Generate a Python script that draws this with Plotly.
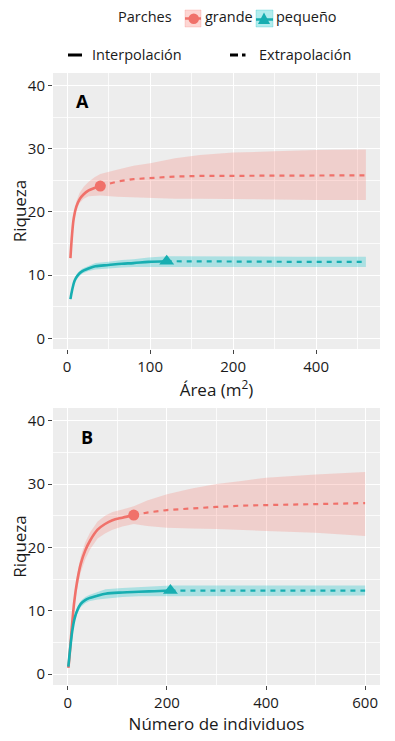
import plotly.graph_objects as go

# ---------------- data ----------------
# Panel A: riqueza vs área
a_grande_x_int = [4, 6, 8, 11, 15, 20, 26, 33, 40]
a_grande_y_int = [12.7, 16.5, 19.0, 20.8, 22.0, 22.8, 23.4, 23.8, 24.1]
a_grande_lo_int = [12.5, 16.1, 18.6, 20.2, 21.4, 22.1, 22.5, 22.6, 22.6]
a_grande_hi_int = [12.9, 16.9, 19.6, 21.6, 23.0, 24.0, 24.8, 25.5, 26.0]
a_grande_x_ext = [40, 60, 80, 100, 130, 160, 200, 250, 300, 360]
a_grande_y_ext = [24.1, 24.8, 25.2, 25.4, 25.6, 25.7, 25.7, 25.8, 25.8, 25.8]
a_grande_lo_ext = [22.6, 22.4, 22.3, 22.2, 22.1, 22.1, 22.0, 22.0, 21.9, 21.9]
a_grande_hi_ext = [26.0, 26.7, 27.3, 27.7, 28.5, 29.0, 29.4, 29.6, 29.8, 29.9]

a_peq_x_int = [4, 6, 9, 13, 18, 25, 34, 50, 66, 80, 98, 120]
a_peq_y_int = [6.2, 7.6, 9.1, 10.0, 10.6, 11.0, 11.4, 11.6, 11.8, 11.9, 12.1, 12.2]
a_peq_lo_int = [6.0, 7.3, 8.8, 9.6, 10.2, 10.6, 10.9, 11.1, 11.2, 11.3, 11.4, 11.4]
a_peq_hi_int = [6.4, 7.9, 9.4, 10.4, 11.0, 11.4, 11.9, 12.1, 12.4, 12.5, 12.8, 13.0]
a_peq_x_ext = [120, 200, 280, 360]
a_peq_y_ext = [12.2, 12.1, 12.1, 12.1]
a_peq_lo_ext = [11.4, 11.3, 11.3, 11.3]
a_peq_hi_ext = [13.0, 12.9, 12.9, 12.9]

a_tickvals = [0, 100, 200, 300]
a_ticktext = ["0", "100", "200", "400"]

# Panel B: riqueza vs número de individuos
b_grande_x_int = [1, 3, 6, 9, 13, 18, 26, 35, 45, 60, 75, 90, 110, 133]
b_grande_y_int = [1.0, 2.5, 5.5, 8.3, 11.5, 14.3, 17.4, 19.5, 21.1, 22.8, 23.7, 24.3, 24.7, 25.1]
b_grande_lo_int = [0.9, 2.2, 5.0, 7.6, 10.6, 13.2, 16.1, 18.1, 19.7, 21.4, 22.2, 22.8, 23.3, 23.7]
b_grande_hi_int = [1.1, 2.8, 6.0, 9.0, 12.4, 15.4, 18.6, 20.8, 22.4, 24.1, 25.0, 25.6, 26.0, 26.5]
b_grande_x_ext = [133, 160, 200, 250, 300, 350, 400, 500, 600]
b_grande_y_ext = [25.1, 25.5, 25.9, 26.2, 26.4, 26.6, 26.7, 26.9, 27.0]
b_grande_lo_ext = [23.7, 23.4, 23.1, 23.0, 22.9, 22.8, 22.6, 22.3, 21.8]
b_grande_hi_ext = [26.5, 27.4, 28.4, 29.3, 30.0, 30.5, 31.0, 31.5, 31.9]

b_peq_x_int = [1, 3, 6, 9, 13, 18, 26, 35, 43, 60, 76, 110, 143, 175, 207]
b_peq_y_int = [1.2, 2.8, 5.0, 6.9, 8.6, 9.9, 11.1, 11.7, 12.0, 12.4, 12.7, 12.9, 13.0, 13.1, 13.2]
b_peq_lo_int = [1.0, 2.5, 4.6, 6.4, 8.1, 9.4, 10.6, 11.2, 11.5, 11.8, 12.0, 12.2, 12.3, 12.3, 12.4]
b_peq_hi_int = [1.4, 3.1, 5.4, 7.4, 9.1, 10.4, 11.6, 12.2, 12.5, 13.0, 13.4, 13.6, 13.7, 13.9, 14.0]
b_peq_x_ext = [207, 300, 400, 500, 600]
b_peq_y_ext = [13.2, 13.2, 13.2, 13.2, 13.2]
b_peq_lo_ext = [12.4, 12.4, 12.4, 12.4, 12.4]
b_peq_hi_ext = [14.0, 14.0, 14.0, 14.0, 14.0]

b_tickvals = [0, 200, 400, 600]
y_tickvals = [0, 10, 20, 30, 40]

# ---------------- style ----------------
RED = "#F0716A"
TEAL = "#17AEB1"
RED_FILL = "rgba(248,118,109,0.25)"
TEAL_FILL = "rgba(0,191,196,0.28)"
FONT = "Open Sans"
OFF = 8            # default page body margin
W, H = 395 - 2 * OFF, 741 - OFF

fig = go.Figure()


def add_series(xi, yi, loi, hii, xe, ye, loe, hie, color, fill, symbol, msize, xa, ya):
    xs = xi + xe
    lo = loi + loe
    hi = hii + hie
    fig.add_trace(go.Scatter(x=xs + xs[::-1], y=hi + lo[::-1], fill="toself",
                             fillcolor=fill, line=dict(width=0), mode="lines",
                             hoverinfo="skip", showlegend=False, xaxis=xa, yaxis=ya))
    fig.add_trace(go.Scatter(x=xe, y=ye, mode="lines",
                             line=dict(color=color, width=2.2, dash="5px,5px"),
                             showlegend=False, xaxis=xa, yaxis=ya))
    fig.add_trace(go.Scatter(x=xi, y=yi, mode="lines", line=dict(color=color, width=2.6, shape="spline"),
                             showlegend=False, xaxis=xa, yaxis=ya))
    fig.add_trace(go.Scatter(x=[xi[-1]], y=[yi[-1]], mode="markers",
                             marker=dict(color=color, size=msize, symbol=symbol),
                             showlegend=False, xaxis=xa, yaxis=ya))


add_series(a_grande_x_int, a_grande_y_int, a_grande_lo_int, a_grande_hi_int,
           a_grande_x_ext, a_grande_y_ext, a_grande_lo_ext, a_grande_hi_ext,
           RED, RED_FILL, "circle", 11, "x", "y")
add_series(a_peq_x_int, a_peq_y_int, a_peq_lo_int, a_peq_hi_int,
           a_peq_x_ext, a_peq_y_ext, a_peq_lo_ext, a_peq_hi_ext,
           TEAL, TEAL_FILL, "triangle-up", 13, "x", "y")
add_series(b_grande_x_int, b_grande_y_int, b_grande_lo_int, b_grande_hi_int,
           b_grande_x_ext, b_grande_y_ext, b_grande_lo_ext, b_grande_hi_ext,
           RED, RED_FILL, "circle", 11, "x2", "y2")
add_series(b_peq_x_int, b_peq_y_int, b_peq_lo_int, b_peq_hi_int,
           b_peq_x_ext, b_peq_y_ext, b_peq_lo_ext, b_peq_hi_ext,
           TEAL, TEAL_FILL, "triangle-up", 13, "x2", "y2")


def PX(x):
    return (x - OFF) / W


def PY(y):
    return 1 - (y - OFF) / H


axis_common = dict(
    showline=False, zeroline=False, showgrid=True, gridcolor="white", gridwidth=1.4,
    ticks="outside", ticklen=4, tickcolor="#444", tickwidth=1,
    tickfont=dict(family=FONT, size=15, color="#1a1a1a"),
    automargin=False,
)

minor_grid = dict(showgrid=True, gridcolor="rgba(255,255,255,0.75)", gridwidth=0.7, ticks="")

fig.update_layout(
    width=W, height=H,
    margin=dict(l=0, r=0, t=0, b=0),
    paper_bgcolor="white", plot_bgcolor="#EDEDED",
    font=dict(family=FONT, color="#1a1a1a"),
    showlegend=False,
    xaxis=dict(domain=[PX(53), PX(380)], range=[-17, 377], anchor="y",
               tickmode="array", tickvals=a_tickvals, ticktext=a_ticktext,
               minor=dict(tickvals=[50, 150, 250, 350], **minor_grid),
               title=dict(text="Área (m<sup>2</sup>)", font=dict(family=FONT, size=17), standoff=4),
               **axis_common),
    yaxis=dict(domain=[PY(349), PY(73)], range=[-1.7, 42], anchor="x",
               tickmode="array", tickvals=y_tickvals,
               minor=dict(tickvals=[5, 15, 25, 35], **minor_grid),
               title=dict(text="Riqueza", font=dict(family=FONT, size=17), standoff=8),
               **axis_common),
    xaxis2=dict(domain=[PX(53), PX(380)], range=[-30, 630], anchor="y2",
                tickmode="array", tickvals=b_tickvals,
                minor=dict(tickvals=[100, 300, 500], **minor_grid),
                title=dict(text="Número de individuos", font=dict(family=FONT, size=17), standoff=6),
                **axis_common),
    yaxis2=dict(domain=[PY(685), PY(408)], range=[-1.7, 42], anchor="x2",
                tickmode="array", tickvals=y_tickvals,
                minor=dict(tickvals=[5, 15, 25, 35], **minor_grid),
                title=dict(text="Riqueza", font=dict(family=FONT, size=17), standoff=8),
                **axis_common),
)

# panel labels
fig.add_annotation(x=18, y=37.6, xref="x", yref="y", text="<b>A</b>", showarrow=False,
                   font=dict(family=FONT, size=18, color="black"))
fig.add_annotation(x=38, y=37.5, xref="x2", yref="y2", text="<b>B</b>", showarrow=False,
                   font=dict(family=FONT, size=18, color="black"))

# ---------------- legend (drawn) ----------------
shapes = []
# grande key
shapes.append(dict(type="rect", xref="paper", yref="paper", x0=PX(185), x1=PX(201), y0=PY(27), y1=PY(10),
                   fillcolor="rgba(248,118,109,0.3)", line=dict(width=0.6, color="rgba(248,118,109,0.4)")))
shapes.append(dict(type="line", xref="paper", yref="paper", x0=PX(185), x1=PX(201), y0=PY(18.5), y1=PY(18.5),
                   line=dict(color=RED, width=2.5)))
shapes.append(dict(type="circle", xref="paper", yref="paper", x0=PX(188.5), x1=PX(199), y0=PY(24), y1=PY(13.5),
                   fillcolor=RED, line=dict(width=0)))
# pequeño key
shapes.append(dict(type="rect", xref="paper", yref="paper", x0=PX(256), x1=PX(273), y0=PY(27), y1=PY(10),
                   fillcolor="rgba(0,191,196,0.3)", line=dict(width=0.6, color="rgba(0,191,196,0.4)")))
shapes.append(dict(type="line", xref="paper", yref="paper", x0=PX(256), x1=PX(273), y0=PY(19.5), y1=PY(19.5),
                   line=dict(color=TEAL, width=2.5)))
shapes.append(dict(type="path", xref="paper", yref="paper",
                   path=f"M {PX(258)} {PY(24)} L {PX(270)} {PY(24)} L {PX(264)} {PY(12.5)} Z",
                   fillcolor=TEAL, line=dict(width=0)))
# line-type keys
shapes.append(dict(type="line", xref="paper", yref="paper", x0=PX(68), x1=PX(82), y0=PY(55), y1=PY(55),
                   line=dict(color="black", width=3)))
shapes.append(dict(type="line", xref="paper", yref="paper", x0=PX(230), x1=PX(238), y0=PY(55), y1=PY(55),
                   line=dict(color="black", width=3)))
shapes.append(dict(type="line", xref="paper", yref="paper", x0=PX(242), x1=PX(245.5), y0=PY(55), y1=PY(55),
                   line=dict(color="black", width=3)))
fig.update_layout(shapes=shapes)

legend_texts = [("Parches", 116, 17), ("grande", 203, 17), ("pequeño", 274, 17),
                ("Interpolación", 90, 55), ("Extrapolación", 257, 55)]
for txt, x, y in legend_texts:
    fig.add_annotation(x=PX(x), y=PY(y), xref="paper", yref="paper", text=txt, showarrow=False,
                       xanchor="left", yanchor="middle", font=dict(family=FONT, size=14.5, color="#1a1a1a"))

fig.write_html("out.html")
